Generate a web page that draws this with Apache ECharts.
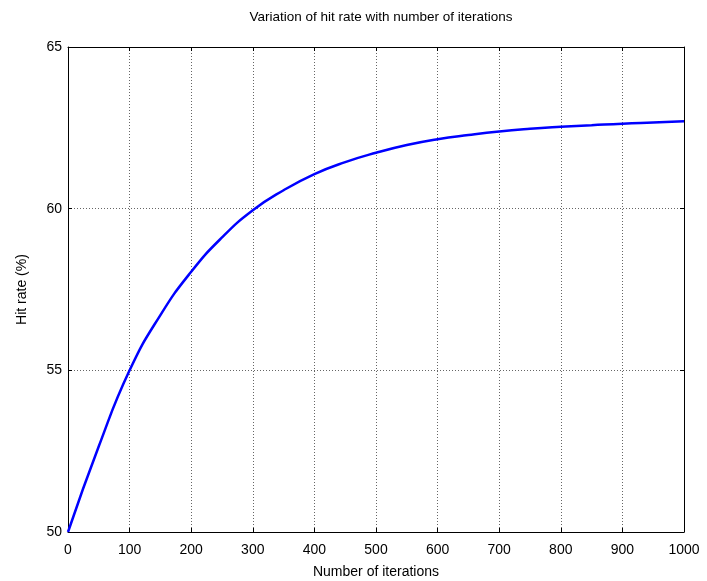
<!DOCTYPE html>
<html>
<head>
<meta charset="utf-8">
<script src="https://cdn.jsdelivr.net/npm/echarts@6/dist/echarts.min.js"></script>
<style>html,body{margin:0;padding:0;background:#fff}#c{width:707px;height:581px}</style>
</head>
<body>
<div id="c"></div>
<script>
var iterations = [0, 50, 100, 150, 200, 250, 300, 350, 400, 450, 500, 550, 600, 650, 700, 750, 800, 850, 900, 950, 1000];
var hitRate = [50, 52.65, 55, 56.71, 58.05, 59.11, 59.95, 60.57, 61.07, 61.44, 61.73, 61.97, 62.15, 62.28, 62.39, 62.47, 62.53, 62.58, 62.63, 62.665, 62.7];
var xTicks = [0, 100, 200, 300, 400, 500, 600, 700, 800, 900, 1000];
var yTicks = [50, 55, 60, 65];
var titleText = 'Variation of hit rate with number of iterations';
var xName = 'Number of iterations';
var yName = 'Hit rate (%)';

var font = 'Liberation Sans, Arial, sans-serif';
var chart = echarts.init(document.getElementById('c'));
var gridLine = {show: true, lineStyle: {color: '#666', type: [1, 2], width: 1}};
var axisLine = {show: true, onZero: false, lineStyle: {color: '#000', width: 1}};
var tick = {show: true, inside: true, length: 4, lineStyle: {color: '#000'}};
chart.setOption({
  animation: false,
  title: {text: titleText, left: 376, top: 5, textAlign: 'center',
    textStyle: {fontFamily: font, fontSize: 13.5, fontWeight: 'normal', color: '#000'}},
  grid: {left: 68, right: 23, top: 47, bottom: 49, containLabel: false, outerBoundsMode: 'none'},
  xAxis: [{
    type: 'value', min: xTicks[0], max: xTicks[xTicks.length - 1], interval: 100,
    name: xName, nameLocation: 'middle', nameGap: 33,
    nameTextStyle: {fontFamily: font, fontSize: 14, color: '#000'},
    axisLine: axisLine, axisTick: tick, splitLine: gridLine,
    axisLabel: {fontFamily: font, fontSize: 14, color: '#000', margin: 11,
      formatter: function (v) { return String(v); }}
  }, {
    type: 'value', position: 'top', min: 0, max: 1000, interval: 100,
    axisLine: axisLine, axisTick: tick, splitLine: {show: false}, axisLabel: {show: false}
  }],
  yAxis: [{
    type: 'value', min: yTicks[0], max: yTicks[yTicks.length - 1], interval: 5,
    name: yName, nameLocation: 'middle', nameGap: 39,
    nameTextStyle: {fontFamily: font, fontSize: 14, color: '#000'},
    axisLine: axisLine, axisTick: tick, splitLine: gridLine,
    axisLabel: {fontFamily: font, fontSize: 14, color: '#000', margin: 6}
  }, {
    type: 'value', position: 'right', min: 50, max: 65, interval: 5,
    axisLine: axisLine, axisTick: tick, splitLine: {show: false}, axisLabel: {show: false}
  }],
  series: [{
    type: 'line', smooth: 0.5, showSymbol: false,
    data: iterations.map(function (x, i) { return [x, hitRate[i]]; }),
    lineStyle: {color: '#0000ff', width: 2.5}
  }]
});
</script>
</body>
</html>
